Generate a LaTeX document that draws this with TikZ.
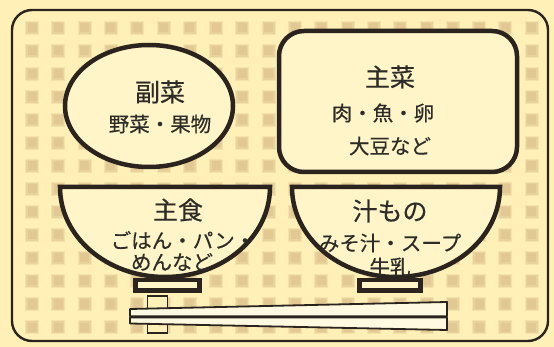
\documentclass[tikz,border=0pt]{standalone}
\usepackage{fontspec}
\newfontfamily\jp[FakeBold=0.4]{Noto Sans CJK JP}
\usetikzlibrary{shapes.geometric}
\definecolor{paper}{HTML}{FEF0B7}
\definecolor{inside}{HTML}{FFF5C8}
\definecolor{stickfill}{HTML}{FFF9E2}
\definecolor{tile}{HTML}{E2C993}
\definecolor{ink}{HTML}{2A231E}
\definecolor{txt}{HTML}{2E2C28}
\tikzset{
  frame/.style={draw=ink, line width=2.4pt, rounded corners=20pt},
  dish/.style={draw=ink, line width=4.5pt, fill=inside},
  foot/.style={draw=ink, line width=4.5pt, fill=inside},
  stick/.style={draw=ink, line width=1.8pt, fill=stickfill, line join=round},
  big/.style={text=txt, font=\jp\fontsize{25}{25}\selectfont, inner sep=0pt},
  small/.style={text=txt, font=\jp\fontsize{20.5}{20.5}\selectfont, inner sep=0pt},
}
\begin{document}
\begin{tikzpicture}[x=1pt,y=-1pt]
\useasboundingbox (0,0) rectangle (554,347);
\fill[paper] (0,0) rectangle (554,347);
% faded tile pattern
\foreach \i in {0,...,19}{
  \foreach \j in {0,...,13}{
    \fill[tile, opacity=0.35] ({32+26.3*\i-7},{28+23*\j-7}) rectangle +(14,14);
    \fill[tile, opacity=0.6] ({32+26.3*\i-6},{28+23*\j-6}) rectangle +(12,12);
    \fill[tile] ({32+26.3*\i-4.5},{28+23*\j-4.5}) rectangle +(9,9);
  }
}
% outer frame
\draw[frame] (12,10) rectangle (548,341);

% side dish
\node[ellipse, dish, minimum width=168pt, minimum height=122pt, inner sep=0pt] (fuku) at (149,106) {};
\node[big] (fukuT) at (160,92) {副菜};
\node[small] (fukuS) at (160,124) {野菜・果物};

% main dish
\node[dish, rounded corners=25pt, minimum width=238pt, minimum height=141pt, inner sep=0pt] (shu) at (398,101.5) {};
\node[big] (shuT) at (390,77) {主菜};
\node[small] (shuS1) at (383,113) {肉・魚・卵};
\node[small] (shuS2) at (390,146) {大豆など};

% chopstick rest and chopsticks
\node[draw=ink, line width=1.8pt, fill=paper, minimum width=20pt, minimum height=37pt, inner sep=0pt] (rest) at (157.5,314.5) {};
\draw[stick] (130,309) -- (447,302) -- (447,316.3) -- (130,316.3) -- cycle;
\draw[stick] (130,317.5) -- (447,317.5) -- (447,330) -- (130,323.5) -- cycle;

% rice bowl
\draw[dish] (60,187) -- (270,187) .. controls (270,237) and (223,277) .. (165,277)
  .. controls (107,277) and (60,237) .. (60,187) -- cycle;
\draw[foot] (135.5,280) rectangle (199.5,290.5);
\node[big] (shokuT) at (178,210) {主食};
\node[small] (shokuS1) at (183,240) {ごはん・パン・};
\node[small] (shokuS2) at (172,262) {めんなど};

% soup bowl
\draw[dish] (292,187) -- (500,187) .. controls (500,237) and (453.4,277) .. (396,277)
  .. controls (338.6,277) and (292,237) .. (292,187) -- cycle;
\draw[foot] (359.5,280) rectangle (420.5,290.5);
\node[big] (shiruT) at (390,211) {汁もの};
\node[small] (shiruS1) at (390,243) {みそ汁・スープ};
\node[small] (shiruS2) at (390,267) {牛乳};
\end{tikzpicture}
\end{document}
